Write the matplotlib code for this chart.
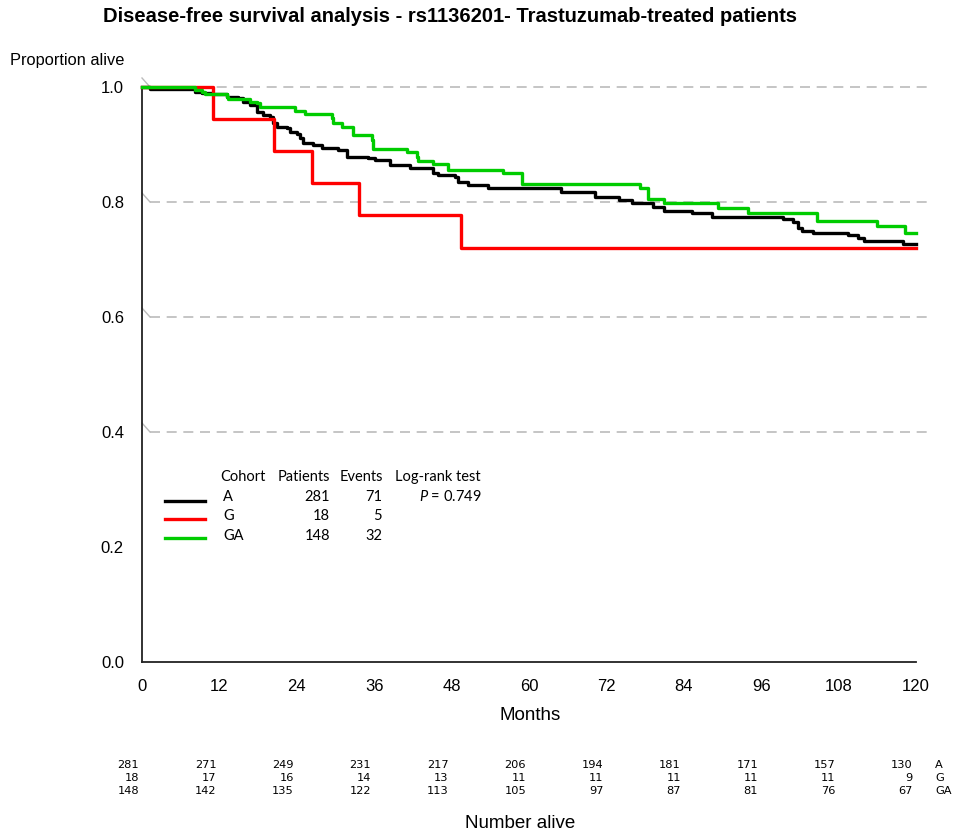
import numpy as np
import matplotlib.pyplot as plt
from matplotlib.lines import Line2D
from matplotlib.transforms import blended_transform_factory, offset_copy

plt.rcParams['font.family'] = ['Liberation Sans', 'DejaVu Sans']
plt.rcParams['mathtext.fontset'] = 'custom'
plt.rcParams['mathtext.it'] = 'Lato:italic'
plt.rcParams['mathtext.rm'] = 'Lato'

# Kaplan-Meier steps (months, proportion alive)
a_t = [0, 1.2, 8.2, 9.3, 10.8, 13.2, 14.9, 15.7, 16.7, 17.8, 18.8, 19.8, 20.3, 20.9, 22.5,
       23.0, 24.0, 24.5, 25.0, 26.5, 27.9, 30.4, 31.8, 35.0, 36.1, 38.4, 41.6, 45.1, 45.9,
       48.5, 49.0, 50.5, 53.6, 65.0, 70.2, 74.0, 76.0, 79.2, 81.0, 85.3, 88.4, 99.4, 101.0,
       101.7, 102.3, 104.0, 109.5, 111.0, 112.0, 118.0, 120]
a_s = [1.0, 0.996, 0.992, 0.990, 0.988, 0.983, 0.981, 0.974, 0.969, 0.957, 0.951, 0.948,
       0.937, 0.930, 0.929, 0.922, 0.918, 0.911, 0.903, 0.899, 0.894, 0.890, 0.878, 0.877,
       0.873, 0.864, 0.859, 0.850, 0.847, 0.843, 0.835, 0.830, 0.824, 0.817, 0.809, 0.803,
       0.798, 0.791, 0.784, 0.781, 0.774, 0.770, 0.765, 0.755, 0.750, 0.746, 0.743, 0.737,
       0.732, 0.727, 0.727]

g_t = [0, 11.0, 20.5, 26.4, 33.6, 49.4, 120]
g_s = [1.0, 0.944, 0.889, 0.833, 0.778, 0.720, 0.720]

ga_t = [0, 8.2, 9.3, 9.8, 13.2, 13.4, 16.7, 17.8, 18.3, 23.7, 25.3, 29.5, 29.6, 31.0, 32.7,
        35.7, 35.8, 41.1, 42.6, 42.8, 45.1, 47.4, 56.0, 58.9, 77.2, 78.5, 81.0, 89.3, 94.0,
        104.7, 114.0, 118.3, 120]
ga_s = [1.0, 0.995, 0.991, 0.988, 0.983, 0.979, 0.974, 0.972, 0.966, 0.958, 0.953, 0.946,
        0.937, 0.930, 0.916, 0.908, 0.892, 0.887, 0.878, 0.871, 0.866, 0.856, 0.851, 0.831,
        0.824, 0.805, 0.798, 0.790, 0.781, 0.767, 0.758, 0.746, 0.746]

month_ticks = [0, 12, 24, 36, 48, 60, 72, 84, 96, 108, 120]
at_risk_a = [281, 271, 249, 231, 217, 206, 194, 181, 171, 157, 130]
at_risk_g = [18, 17, 16, 14, 13, 11, 11, 11, 11, 11, 9]
at_risk_ga = [148, 142, 135, 122, 113, 105, 97, 87, 81, 76, 67]

cohorts = ['A', 'G', 'GA']
patients = [281, 18, 148]
events = [71, 5, 32]
colors = ['black', '#ff0000', '#00cc00']

W, H = 962, 835
def fx(x):
    return x / W
def fy(y):
    return 1 - y / H

fig = plt.figure(figsize=(W / 100, H / 100), dpi=100)
ax = fig.add_axes([fx(142), fy(662), 774 / W, 575 / H])

# grey dashed reference lines with the little slash at the axis
for g in [0.4, 0.6, 0.8, 1.0]:
    ax.plot([1.24, 122.5], [g, g], ls=(0, (6, 4)), color='#bbbbbb', lw=1.2,
            clip_on=False, zorder=1)
    ax.plot([0, 1.24], [g + 9 / 575, g], color='#bbbbbb', lw=1.0, clip_on=False, zorder=1)

for t, s, c in zip([a_t, g_t, ga_t], [a_s, g_s, ga_s], colors):
    ax.step(t, s, where='post', color=c, lw=2.4, clip_on=False, zorder=3)

ax.set_xlim(0, 120)
ax.set_ylim(0, 1.0)
ax.set_xticks(month_ticks)
ax.set_yticks([0.0, 0.2, 0.4, 0.6, 0.8, 1.0])
ax.set_yticklabels(['0.0', '0.2', '0.4', '0.6', '0.8', '1.0'])
ax.tick_params(length=0, labelsize=12)
ax.tick_params(axis='x', pad=12)
ax.tick_params(axis='y', pad=13)
for side in ['top', 'right']:
    ax.spines[side].set_visible(False)
for side in ['left', 'bottom']:
    ax.spines[side].set_linewidth(1.3)
    ax.spines[side].set_color('#222222')

fig.text(fx(450), fy(17), 'Disease-free survival analysis - rs1136201- Trastuzumab-treated patients',
         ha='center', va='center', fontsize=14.5, fontweight='bold')
fig.text(fx(10), fy(60), 'Proportion alive', ha='left', va='center', fontsize=11.8)
fig.text(fx(530), fy(716), 'Months', ha='center', va='center', fontsize=13.5)
fig.text(fx(520), fy(824), 'Number alive', ha='center', va='center', fontsize=13.5)

# number at risk table
tf = ['DejaVu Sans']
tr = offset_copy(blended_transform_factory(ax.transData, fig.transFigure),
                 fig=fig, x=-3, y=0, units='dots')
for row, yy, lab in zip([at_risk_a, at_risk_g, at_risk_ga], [765.5, 778, 790.5], cohorts):
    for m, n in zip(month_ticks, row):
        ax.text(m, fy(yy), str(n), transform=tr, ha='right', va='center',
                family=tf, fontsize=8.2)
    fig.text(fx(935), fy(yy), lab, ha='left', va='center', family=tf, fontsize=8.2)

# legend block
lf = ['Lato', 'DejaVu Sans']
ls = 10.5
fig.text(fx(220), fy(477), 'Cohort', ha='left', va='center', family=lf, fontsize=ls)
fig.text(fx(278), fy(477), 'Patients', ha='left', va='center', family=lf, fontsize=ls)
fig.text(fx(340), fy(477), 'Events', ha='left', va='center', family=lf, fontsize=ls)
fig.text(fx(395), fy(477), 'Log-rank test', ha='left', va='center', family=lf, fontsize=ls)
for i, (yy, yl) in enumerate(zip([497, 516, 536], [501, 519, 538])):
    fig.add_artist(Line2D([fx(165), fx(205)], [fy(yl), fy(yl)], color=colors[i], lw=2.4))
    fig.text(fx(223), fy(yy), cohorts[i], ha='left', va='center', family=lf, fontsize=ls)
    fig.text(fx(330), fy(yy), str(patients[i]), ha='right', va='center', family=lf, fontsize=ls)
    fig.text(fx(382), fy(yy), str(events[i]), ha='right', va='center', family=lf, fontsize=ls)
fig.text(fx(482), fy(497), '$P$ = 0.749', ha='right', va='center', family=lf, fontsize=ls)

fig.savefig('out.png', dpi=100)
